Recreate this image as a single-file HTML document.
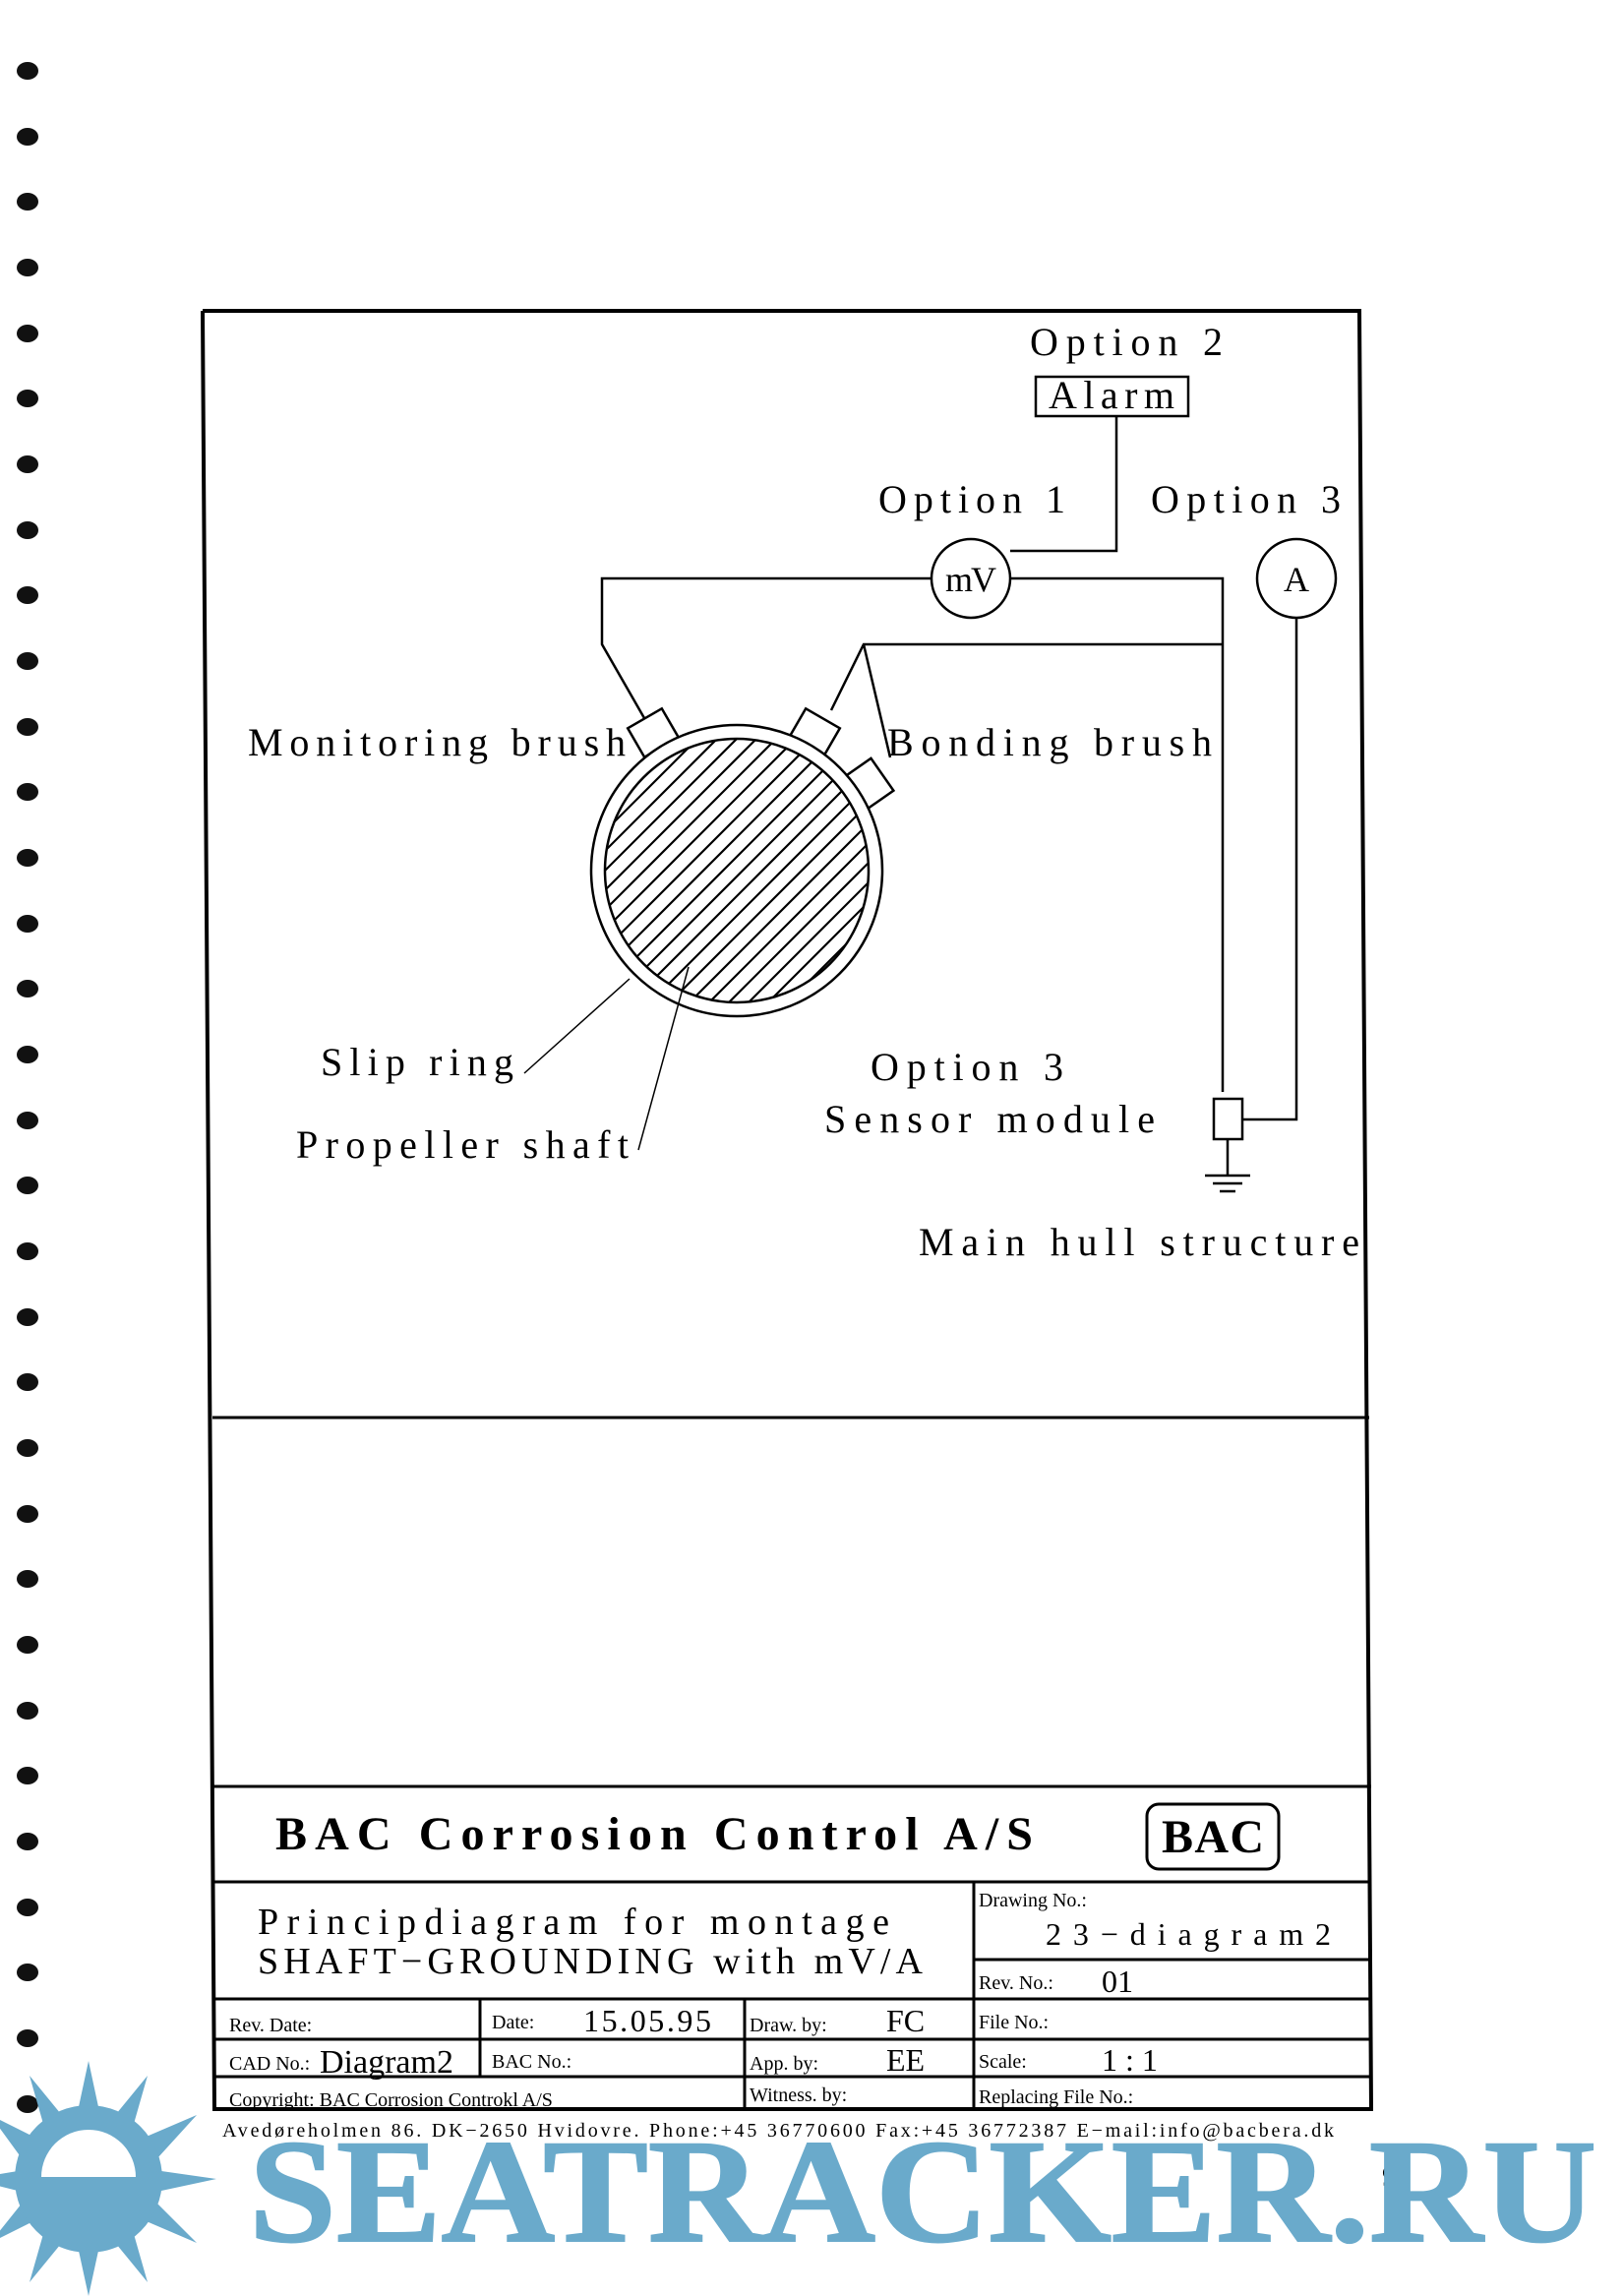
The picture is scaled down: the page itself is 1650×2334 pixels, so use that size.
<!DOCTYPE html>
<html><head><meta charset="utf-8"><style>
html,body{margin:0;padding:0;background:#fff;}
svg{display:block;}
text{font-family:"Liberation Serif",serif;}
</style></head><body>
<svg width="1650" height="2334" viewBox="0 0 1650 2334" xmlns="http://www.w3.org/2000/svg">
<rect width="1650" height="2334" fill="#fff"/>
<!-- binding holes -->
<g fill="#111">
<ellipse cx="28" cy="72" rx="11" ry="9"/><ellipse cx="28" cy="139" rx="11" ry="9"/><ellipse cx="28" cy="205" rx="11" ry="9"/><ellipse cx="28" cy="272" rx="11" ry="9"/><ellipse cx="28" cy="339" rx="11" ry="9"/><ellipse cx="28" cy="405" rx="11" ry="9"/><ellipse cx="28" cy="472" rx="11" ry="9"/><ellipse cx="28" cy="539" rx="11" ry="9"/><ellipse cx="28" cy="605" rx="11" ry="9"/><ellipse cx="28" cy="672" rx="11" ry="9"/><ellipse cx="28" cy="739" rx="11" ry="9"/><ellipse cx="28" cy="805" rx="11" ry="9"/><ellipse cx="28" cy="872" rx="11" ry="9"/><ellipse cx="28" cy="939" rx="11" ry="9"/><ellipse cx="28" cy="1005" rx="11" ry="9"/><ellipse cx="28" cy="1072" rx="11" ry="9"/><ellipse cx="28" cy="1139" rx="11" ry="9"/><ellipse cx="28" cy="1205" rx="11" ry="9"/><ellipse cx="28" cy="1272" rx="11" ry="9"/><ellipse cx="28" cy="1339" rx="11" ry="9"/><ellipse cx="28" cy="1405" rx="11" ry="9"/><ellipse cx="28" cy="1472" rx="11" ry="9"/><ellipse cx="28" cy="1539" rx="11" ry="9"/><ellipse cx="28" cy="1605" rx="11" ry="9"/><ellipse cx="28" cy="1672" rx="11" ry="9"/><ellipse cx="28" cy="1739" rx="11" ry="9"/><ellipse cx="28" cy="1805" rx="11" ry="9"/><ellipse cx="28" cy="1872" rx="11" ry="9"/><ellipse cx="28" cy="1939" rx="11" ry="9"/><ellipse cx="28" cy="2005" rx="11" ry="9"/><ellipse cx="28" cy="2072" rx="11" ry="9"/><ellipse cx="28" cy="2139" rx="11" ry="9"/>
</g>
<!-- frame -->
<g stroke="#000" fill="none">
<polyline points="206,316 1382,316 1394,2144 218,2144 206,316" stroke-width="4"/>
<line x1="216" y1="1441" x2="1392" y2="1441" stroke-width="3"/>
<line x1="216" y1="1816" x2="1394" y2="1816" stroke-width="3"/>
<line x1="218" y1="1913" x2="1394" y2="1913" stroke-width="3"/>
<line x1="990" y1="1913" x2="990" y2="2144" stroke-width="3"/>
<line x1="990" y1="1992" x2="1394" y2="1992" stroke-width="3"/>
<line x1="218" y1="2032" x2="1394" y2="2032" stroke-width="3"/>
<line x1="218" y1="2073" x2="1394" y2="2073" stroke-width="3"/>
<line x1="218" y1="2111" x2="1394" y2="2111" stroke-width="3"/>
<line x1="488" y1="2032" x2="488" y2="2111" stroke-width="3"/>
<line x1="757" y1="2032" x2="757" y2="2144" stroke-width="3"/>
<rect x="1166" y="1834" width="134" height="66" rx="12" stroke-width="3"/>
</g>
<!-- diagram -->
<g stroke="#000" fill="none" stroke-width="2.5">
<rect x="1053" y="383" width="155" height="40"/>
<polyline points="1135,423 1135,560 1027,560"/>
<circle cx="987" cy="588" r="40"/>
<polyline points="947,588 612,588 612,655 655,730"/>
<polyline points="1027,588 1243,588 1243,1110"/>
<polyline points="1243,655 878,655 845,722"/>
<line x1="878" y1="655" x2="905" y2="770"/>
<circle cx="1318" cy="588" r="40"/>
<polyline points="1318,628 1318,1138 1263,1138"/>
<rect x="1234" y="1117" width="29" height="41"/>
<line x1="1248" y1="1158" x2="1248" y2="1195"/>
<line x1="1225" y1="1195" x2="1271" y2="1195"/>
<line x1="1233" y1="1203" x2="1263" y2="1203"/>
<line x1="1240" y1="1211" x2="1256" y2="1211"/>
<rect x="-20" y="-17" width="40" height="34" transform="translate(664,745) rotate(-30)"/>
<rect x="-20" y="-17" width="40" height="34" transform="translate(828,745) rotate(30)"/>
<rect x="-20" y="-17" width="40" height="34" transform="translate(883,797) rotate(55)"/>
<circle cx="749" cy="885" r="148" fill="#fff"/>
<circle cx="749" cy="885" r="134"/>
<line x1="533" y1="1091" x2="640" y2="995" stroke-width="1.5"/>
<line x1="649" y1="1169" x2="700" y2="983" stroke-width="1.5"/>
</g>
<clipPath id="sh"><circle cx="749" cy="885" r="133"/></clipPath>
<g clip-path="url(#sh)" stroke="#000" stroke-width="2.2">
<line x1="480" y1="1000" x2="780" y2="700"/><line x1="480" y1="1020" x2="800" y2="700"/><line x1="480" y1="1040" x2="820" y2="700"/><line x1="480" y1="1060" x2="840" y2="700"/><line x1="480" y1="1080" x2="860" y2="700"/><line x1="480" y1="1100" x2="880" y2="700"/><line x1="480" y1="1120" x2="900" y2="700"/><line x1="480" y1="1140" x2="920" y2="700"/><line x1="480" y1="1160" x2="940" y2="700"/><line x1="480" y1="1180" x2="960" y2="700"/><line x1="480" y1="1200" x2="980" y2="700"/><line x1="500" y1="1200" x2="1000" y2="700"/><line x1="520" y1="1200" x2="1020" y2="700"/><line x1="540" y1="1200" x2="1040" y2="700"/><line x1="560" y1="1200" x2="1060" y2="700"/><line x1="580" y1="1200" x2="1080" y2="700"/><line x1="600" y1="1200" x2="1100" y2="700"/><line x1="620" y1="1200" x2="1120" y2="700"/><line x1="640" y1="1200" x2="1140" y2="700"/><line x1="660" y1="1200" x2="1160" y2="700"/><line x1="680" y1="1200" x2="1180" y2="700"/><line x1="700" y1="1200" x2="1200" y2="700"/><line x1="460" y1="1000" x2="760" y2="700"/><line x1="440" y1="1000" x2="740" y2="700"/><line x1="420" y1="1000" x2="720" y2="700"/><line x1="400" y1="1000" x2="700" y2="700"/><line x1="380" y1="1000" x2="680" y2="700"/><line x1="360" y1="1000" x2="660" y2="700"/><line x1="340" y1="1000" x2="640" y2="700"/><line x1="320" y1="1000" x2="620" y2="700"/><line x1="300" y1="1000" x2="600" y2="700"/>
</g>
<g font-size="40" fill="#000">
<text x="1047" y="361" textLength="196">Option 2</text>
<text x="1066" y="415" textLength="128">Alarm</text>
<text x="893" y="521" textLength="190">Option 1</text>
<text x="1170" y="521" textLength="193">Option 3</text>
<text x="961" y="601" font-size="36" textLength="52">mV</text>
<text x="1305" y="601" font-size="36">A</text>
<text x="252" y="768" textLength="384">Monitoring brush</text>
<text x="902" y="768" textLength="330">Bonding brush</text>
<text x="326" y="1093" textLength="196">Slip ring</text>
<text x="301" y="1177" textLength="338">Propeller shaft</text>
<text x="885" y="1098" textLength="196">Option 3</text>
<text x="838" y="1151" textLength="336">Sensor module</text>
<text x="934" y="1276" textLength="448">Main hull structure</text>
</g>
<g fill="#000">
<text x="280" y="1880" font-size="48" font-weight="bold" textLength="770">BAC Corrosion Control A/S</text>
<text x="1181" y="1883" font-size="48" font-weight="bold" textLength="104">BAC</text>
<text x="262" y="1966" font-size="38" textLength="642">Principdiagram for montage</text>
<text x="262" y="2006" font-size="38" textLength="676">SHAFT−GROUNDING with mV/A</text>
</g>
<g font-size="20" fill="#000">
<text x="995" y="1938">Drawing No.:</text>
<text x="995" y="2022">Rev. No.:</text>
<text x="995" y="2062">File No.:</text>
<text x="995" y="2102">Scale:</text>
<text x="995" y="2138">Replacing File No.:</text>
<text x="233" y="2065">Rev. Date:</text>
<text x="500" y="2062">Date:</text>
<text x="762" y="2065">Draw. by:</text>
<text x="233" y="2104">CAD No.:</text>
<text x="500" y="2102">BAC No.:</text>
<text x="762" y="2104">App. by:</text>
<text x="233" y="2141">Copyright: BAC Corrosion Controkl A/S</text>
<text x="762" y="2136">Witness. by:</text>
<text x="226" y="2172" textLength="1130">Avedøreholmen 86. DK−2650 Hvidovre. Phone:+45 36770600 Fax:+45 36772387 E−mail:info@bacbera.dk</text>
</g>
<g font-size="32" fill="#000">
<text x="1063" y="1977" textLength="290">23−diagram2</text>
<text x="1120" y="2025">01</text>
<text x="1120" y="2105">1  :  1</text>
<text x="593" y="2065" textLength="130">15.05.95</text>
<text x="901" y="2065">FC</text>
<text x="901" y="2105">EE</text>
<text x="325" y="2107" font-size="34">Diagram2</text>
<text x="1405" y="2222" font-size="30">9</text>
</g>
<!-- watermark -->
<g fill="#6aaacb">
<polygon points="90,2095 105,2165 150,2110 130,2180 200,2150 150,2205 220,2215 150,2230 200,2280 130,2250 150,2320 105,2265 90,2334 75,2265 30,2320 50,2250 -10,2280 30,2230 -30,2215 30,2205 -10,2150 50,2180 30,2110 75,2165"/>
<circle cx="90" cy="2215" r="75"/>
</g>
<path d="M42,2213 A48,48 0 0 1 138,2213 Z" fill="#fff"/>
<text x="253" y="2278" font-size="150" font-weight="bold" style="fill:#6aaacb;stroke:#6aaacb;stroke-width:2" textLength="1370" lengthAdjust="spacingAndGlyphs">SEATRACKER.RU</text>
</svg>
</body></html>
